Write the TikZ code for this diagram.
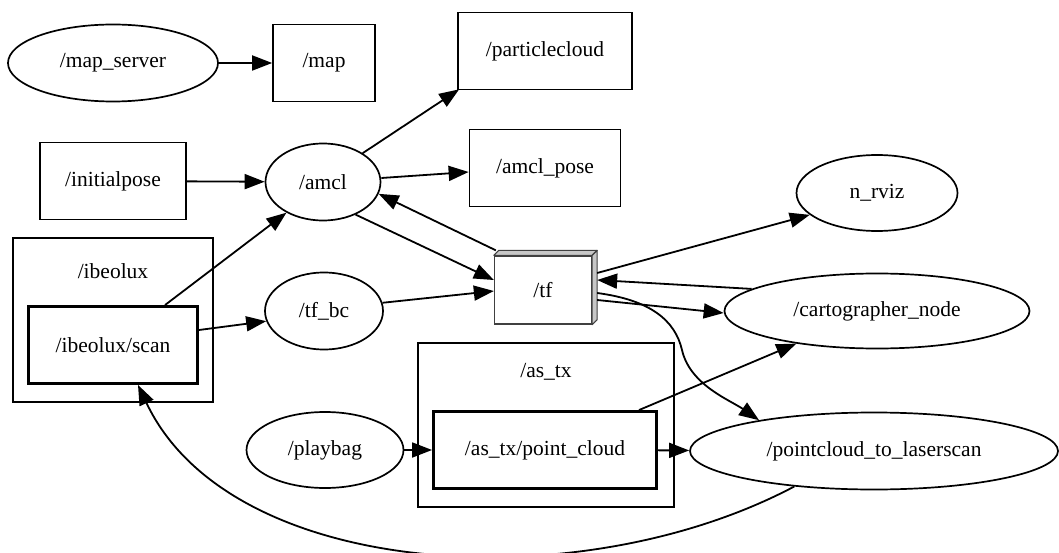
\documentclass[tikz,border=0pt]{standalone}
\usepackage{fontspec}
\setmainfont{Liberation Serif}
\usetikzlibrary{arrows.meta,positioning,shapes.geometric}
\tikzset{
  rgnode/.style={
    ellipse, draw=black, fill=white, line width=1.7pt,
    inner sep=0pt, minimum height=77pt
  },
  rgtopic/.style={
    rectangle, draw=black, fill=white, line width=1.7pt,
    inner sep=0pt, minimum height=77pt
  },
  rgtopicthick/.style={rgtopic,line width=2.9pt},
  rgcluster/.style={rectangle, draw=black, line width=2pt, inner sep=0pt, minimum height=164pt},
  rgclusterlabel/.style={inner sep=0pt},
  rgtf/.style={rectangle, draw=black!75, fill=white, line width=1.3pt, inner sep=0pt},
  rgface/.style={draw=black!75, fill=black!22, line width=1.1pt, line join=round},
  rgedge/.style={-{Triangle[length=20pt,width=15pt]},line width=1.8pt}
}

\begin{document}
\begin{tikzpicture}[x=1pt,y=-1pt,font=\fontsize{21.5}{25}\selectfont]
  \useasboundingbox (0,0) rectangle (1059,553);

  % clusters
  \node[rgcluster,minimum width=200pt] (ibeolux) at (113,320) {};
  \node[rgclusterlabel] (ibeoluxlabel) at (113,271) {/ibeolux};
  \node[rgcluster,minimum width=256pt] (astx) at (546,425) {};
  \node[rgclusterlabel] (astxlabel) at (546,372) {/as\_tx};

  % nodes and topics
  \node[rgnode,minimum width=210pt] (mapserver) at (113,63) {/map\_server};
  \node[rgtopic,minimum width=102pt] (map) at (324,63) {/map};
  \node[rgtopic,minimum width=174pt] (particle) at (545,51) {/particlecloud};
  \node[rgtopic,minimum width=146pt] (initpose) at (113,181) {/initialpose};
  \node[rgnode,minimum width=115pt] (amcl) at (323,182) {/amcl};
  \node[rgtopic,minimum width=151pt] (amclpose) at (545,168) {/amcl\_pose};
  \node[rgnode,minimum width=161pt,minimum height=76pt] (nrviz) at (877,193) {n\_rviz};
  \node[rgtopicthick,minimum width=169pt] (scan) at (113,345) {/ibeolux/scan};
  \node[rgnode,minimum width=118pt] (tfbc) at (324,311) {/tf\_bc};
  \node[rgtf,minimum width=97pt,minimum height=68pt] (tf) at (543,290) {/tf};
  \node[rgnode,minimum width=305pt,minimum height=75pt] (carto) at (877,311) {/cartographer\_node};
  \node[rgnode,minimum width=157pt,minimum height=76pt] (playbag) at (325,450) {/playbag};
  \node[rgtopicthick,minimum width=223pt] (pc) at (545,450) {/as\_tx/point\_cloud};
  \node[rgnode,minimum width=368pt] (ptl) at (874,451) {/pointcloud\_to\_laserscan};

  % box faces of /tf
  \draw[rgface] (tf.north west) -- ([xshift=5pt,yshift=5pt]tf.north west)
    -- ([xshift=5pt,yshift=5pt]tf.north east) -- (tf.north east) -- cycle;
  \draw[rgface] (tf.north east) -- ([xshift=5pt,yshift=5pt]tf.north east)
    -- ([xshift=5pt,yshift=5pt]tf.south east) -- (tf.south east) -- cycle;

  % edges
  \draw[rgedge] (mapserver) -- (map);
  \draw[rgedge] (initpose) -- (amcl);
  \draw[rgedge] (amcl.36) -- ([xshift=2pt,yshift=1pt]particle.south west);
  \draw[rgedge] ([yshift=4pt]amcl.east) -- ([yshift=-4pt]amclpose.west);
  \draw[rgedge] ([xshift=2pt,yshift=5pt]tf.north west) -- (amcl.-12);
  \draw[rgedge] (amcl.-45) -- ([yshift=10pt]tf.west);
  \draw[rgedge] ([xshift=52pt]scan.north) -- (amcl.-140);
  \draw[rgedge] ([yshift=15pt]scan.east) -- (tfbc.-170);
  \draw[rgedge] (tfbc.8) -- ([yshift=-1pt]tf.west);
  \draw[rgedge] ([xshift=5pt,yshift=17pt]tf.east) -- (nrviz.-162);
  \draw[rgedge] (carto.170) -- ([xshift=5pt,yshift=10pt]tf.east);
  \draw[rgedge] ([xshift=5pt,yshift=-10pt]tf.east) -- ([yshift=-2pt]carto.west);
  \draw[rgedge] ([xshift=5pt,yshift=-3pt]tf.east)
    .. controls (650,300) and (675,320) .. (682,350)
    .. controls (690,385) and (730,400) .. (ptl.165);
  \draw[rgedge] ([xshift=94pt]pc.north) -- (carto.-158);
  \draw[rgedge] (playbag) -- (pc);
  \draw[rgedge] (pc) -- (ptl);
  \draw[rgedge] (ptl.-156) .. controls (580,600) and (230,580) .. ([xshift=25pt]scan.south);
\end{tikzpicture}
\end{document}
